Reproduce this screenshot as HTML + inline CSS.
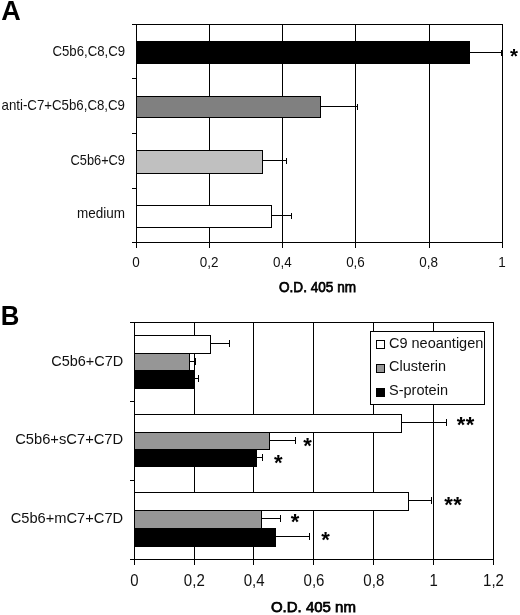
<!DOCTYPE html><html><head><meta charset="utf-8"><title>Figure</title><style>html,body{margin:0;padding:0;background:#fff}svg{display:block}text{font-family:"Liberation Sans",Arial,sans-serif;fill:#111}.la{font-size:14.5px}.lb{font-size:15.5px}.ti{font-size:15.3px;font-weight:normal;fill:#000;stroke:#000;stroke-width:0.75px}.b{font-weight:bold;fill:#000}</style></head><body>
<svg width="520" height="615" viewBox="0 0 520 615">
<rect width="520" height="615" fill="#fff"/>
<text x="1.2" y="19.7" class="b" text-anchor="start" style="font-size:27px">A</text>
<line x1="209.5" y1="24.5" x2="209.5" y2="242.5" stroke="#000" stroke-width="1" shape-rendering="crispEdges"/>
<line x1="282.5" y1="24.5" x2="282.5" y2="242.5" stroke="#000" stroke-width="1" shape-rendering="crispEdges"/>
<line x1="355.5" y1="24.5" x2="355.5" y2="242.5" stroke="#000" stroke-width="1" shape-rendering="crispEdges"/>
<line x1="429.5" y1="24.5" x2="429.5" y2="242.5" stroke="#000" stroke-width="1" shape-rendering="crispEdges"/>
<line x1="131.5" y1="24.5" x2="503.0" y2="24.5" stroke="#000" stroke-width="1" shape-rendering="crispEdges"/>
<line x1="502.5" y1="24.5" x2="502.5" y2="242.5" stroke="#000" stroke-width="1" shape-rendering="crispEdges"/>
<line x1="131.5" y1="242.5" x2="503.0" y2="242.5" stroke="#000" stroke-width="1" shape-rendering="crispEdges"/>
<line x1="136.5" y1="24.5" x2="136.5" y2="247.5" stroke="#000" stroke-width="1" shape-rendering="crispEdges"/>
<line x1="131.5" y1="78.5" x2="136.5" y2="78.5" stroke="#000" stroke-width="1" shape-rendering="crispEdges"/>
<line x1="131.5" y1="133.5" x2="136.5" y2="133.5" stroke="#000" stroke-width="1" shape-rendering="crispEdges"/>
<line x1="131.5" y1="188.5" x2="136.5" y2="188.5" stroke="#000" stroke-width="1" shape-rendering="crispEdges"/>
<line x1="209.5" y1="242.5" x2="209.5" y2="247.5" stroke="#000" stroke-width="1" shape-rendering="crispEdges"/>
<line x1="282.5" y1="242.5" x2="282.5" y2="247.5" stroke="#000" stroke-width="1" shape-rendering="crispEdges"/>
<line x1="355.5" y1="242.5" x2="355.5" y2="247.5" stroke="#000" stroke-width="1" shape-rendering="crispEdges"/>
<line x1="429.5" y1="242.5" x2="429.5" y2="247.5" stroke="#000" stroke-width="1" shape-rendering="crispEdges"/>
<line x1="502.5" y1="242.5" x2="502.5" y2="247.5" stroke="#000" stroke-width="1" shape-rendering="crispEdges"/>
<rect x="136.5" y="41.5" width="333.0" height="22" fill="#000" stroke="#000" stroke-width="1" shape-rendering="crispEdges"/>
<line x1="469.5" y1="52.5" x2="501.5" y2="52.5" stroke="#000" stroke-width="1" shape-rendering="crispEdges"/>
<line x1="501.5" y1="49.5" x2="501.5" y2="55.5" stroke="#000" stroke-width="1" shape-rendering="crispEdges"/>
<text x="125" y="56.2" class="la" text-anchor="end" textLength="72.5" lengthAdjust="spacingAndGlyphs">C5b6,C8,C9</text>
<rect x="136.5" y="96.5" width="184.0" height="21" fill="#808080" stroke="#000" stroke-width="1" shape-rendering="crispEdges"/>
<line x1="320.5" y1="106.5" x2="357.5" y2="106.5" stroke="#000" stroke-width="1" shape-rendering="crispEdges"/>
<line x1="357.5" y1="103.5" x2="357.5" y2="109.5" stroke="#000" stroke-width="1" shape-rendering="crispEdges"/>
<text x="125" y="110.2" class="la" text-anchor="end" textLength="123.5" lengthAdjust="spacingAndGlyphs">anti-C7+C5b6,C8,C9</text>
<rect x="136.5" y="150.5" width="126.0" height="23" fill="#c0c0c0" stroke="#000" stroke-width="1" shape-rendering="crispEdges"/>
<line x1="262.5" y1="160.5" x2="286.5" y2="160.5" stroke="#000" stroke-width="1" shape-rendering="crispEdges"/>
<line x1="286.5" y1="157.5" x2="286.5" y2="163.5" stroke="#000" stroke-width="1" shape-rendering="crispEdges"/>
<text x="125" y="164.8" class="la" text-anchor="end" textLength="54.5" lengthAdjust="spacingAndGlyphs">C5b6+C9</text>
<rect x="136.5" y="205.5" width="135.0" height="22" fill="#fff" stroke="#000" stroke-width="1" shape-rendering="crispEdges"/>
<line x1="271.5" y1="215.5" x2="291.5" y2="215.5" stroke="#000" stroke-width="1" shape-rendering="crispEdges"/>
<line x1="291.5" y1="212.5" x2="291.5" y2="218.5" stroke="#000" stroke-width="1" shape-rendering="crispEdges"/>
<text x="125" y="218.3" class="la" text-anchor="end" textLength="48" lengthAdjust="spacingAndGlyphs">medium</text>
<text x="135.9" y="267.3" class="la" text-anchor="middle" style="font-size:15.5px" textLength="7.5" lengthAdjust="spacingAndGlyphs">0</text>
<text x="209.1" y="267.3" class="la" text-anchor="middle" style="font-size:15.5px" textLength="18.7" lengthAdjust="spacingAndGlyphs">0,2</text>
<text x="282.3" y="267.3" class="la" text-anchor="middle" style="font-size:15.5px" textLength="18.7" lengthAdjust="spacingAndGlyphs">0,4</text>
<text x="355.5" y="267.3" class="la" text-anchor="middle" style="font-size:15.5px" textLength="18.7" lengthAdjust="spacingAndGlyphs">0,6</text>
<text x="428.7" y="267.3" class="la" text-anchor="middle" style="font-size:15.5px" textLength="18.7" lengthAdjust="spacingAndGlyphs">0,8</text>
<text x="501.9" y="267.3" class="la" text-anchor="middle" style="font-size:15.5px" textLength="7.5" lengthAdjust="spacingAndGlyphs">1</text>
<text x="317.5" y="292.2" class="ti" text-anchor="middle" textLength="77" lengthAdjust="spacingAndGlyphs">O.D. 405 nm</text>
<text x="514" y="62.5" class="b" text-anchor="middle" style="font-size:20.5px">*</text>
<text x="0.7" y="325.4" class="b" text-anchor="start" style="font-size:27px" textLength="18.6" lengthAdjust="spacingAndGlyphs">B</text>
<line x1="194.5" y1="322.5" x2="194.5" y2="559.5" stroke="#000" stroke-width="1" shape-rendering="crispEdges"/>
<line x1="253.5" y1="322.5" x2="253.5" y2="559.5" stroke="#000" stroke-width="1" shape-rendering="crispEdges"/>
<line x1="313.5" y1="322.5" x2="313.5" y2="559.5" stroke="#000" stroke-width="1" shape-rendering="crispEdges"/>
<line x1="373.5" y1="322.5" x2="373.5" y2="559.5" stroke="#000" stroke-width="1" shape-rendering="crispEdges"/>
<line x1="433.5" y1="322.5" x2="433.5" y2="559.5" stroke="#000" stroke-width="1" shape-rendering="crispEdges"/>
<line x1="129.5" y1="322.5" x2="494.0" y2="322.5" stroke="#000" stroke-width="1" shape-rendering="crispEdges"/>
<line x1="493.5" y1="322.5" x2="493.5" y2="559.5" stroke="#000" stroke-width="1" shape-rendering="crispEdges"/>
<line x1="129.5" y1="559.5" x2="494.0" y2="559.5" stroke="#000" stroke-width="1" shape-rendering="crispEdges"/>
<line x1="134.5" y1="322.5" x2="134.5" y2="564.5" stroke="#000" stroke-width="1" shape-rendering="crispEdges"/>
<line x1="129.5" y1="401.5" x2="134.5" y2="401.5" stroke="#000" stroke-width="1" shape-rendering="crispEdges"/>
<line x1="129.5" y1="480.5" x2="134.5" y2="480.5" stroke="#000" stroke-width="1" shape-rendering="crispEdges"/>
<line x1="194.5" y1="559.5" x2="194.5" y2="564.5" stroke="#000" stroke-width="1" shape-rendering="crispEdges"/>
<line x1="253.5" y1="559.5" x2="253.5" y2="564.5" stroke="#000" stroke-width="1" shape-rendering="crispEdges"/>
<line x1="313.5" y1="559.5" x2="313.5" y2="564.5" stroke="#000" stroke-width="1" shape-rendering="crispEdges"/>
<line x1="373.5" y1="559.5" x2="373.5" y2="564.5" stroke="#000" stroke-width="1" shape-rendering="crispEdges"/>
<line x1="433.5" y1="559.5" x2="433.5" y2="564.5" stroke="#000" stroke-width="1" shape-rendering="crispEdges"/>
<line x1="493.5" y1="559.5" x2="493.5" y2="564.5" stroke="#000" stroke-width="1" shape-rendering="crispEdges"/>
<rect x="134.5" y="335.5" width="76.0" height="18" fill="#fff" stroke="#000" stroke-width="1" shape-rendering="crispEdges"/>
<line x1="210.5" y1="343.5" x2="229.5" y2="343.5" stroke="#000" stroke-width="1" shape-rendering="crispEdges"/>
<line x1="229.5" y1="340.0" x2="229.5" y2="347.0" stroke="#000" stroke-width="1" shape-rendering="crispEdges"/>
<rect x="134.5" y="353.5" width="55.0" height="17" fill="#969696" stroke="#000" stroke-width="1" shape-rendering="crispEdges"/>
<line x1="189.5" y1="361.5" x2="195.5" y2="361.5" stroke="#000" stroke-width="1" shape-rendering="crispEdges"/>
<line x1="195.5" y1="358.0" x2="195.5" y2="365.0" stroke="#000" stroke-width="1" shape-rendering="crispEdges"/>
<rect x="134.5" y="370.5" width="60.0" height="18" fill="#000" stroke="#000" stroke-width="1" shape-rendering="crispEdges"/>
<line x1="194.5" y1="378.5" x2="198.5" y2="378.5" stroke="#000" stroke-width="1" shape-rendering="crispEdges"/>
<line x1="198.5" y1="375.0" x2="198.5" y2="382.0" stroke="#000" stroke-width="1" shape-rendering="crispEdges"/>
<text x="123.2" y="365.7" class="lb" text-anchor="end" textLength="72" lengthAdjust="spacingAndGlyphs">C5b6+C7D</text>
<rect x="134.5" y="414.5" width="267.0" height="18" fill="#fff" stroke="#000" stroke-width="1" shape-rendering="crispEdges"/>
<line x1="401.5" y1="422.5" x2="446.5" y2="422.5" stroke="#000" stroke-width="1" shape-rendering="crispEdges"/>
<line x1="446.5" y1="419.0" x2="446.5" y2="426.0" stroke="#000" stroke-width="1" shape-rendering="crispEdges"/>
<text x="456.8" y="432.3" class="b" text-anchor="start" style="font-size:22px;letter-spacing:0.4px">**</text>
<rect x="134.5" y="432.5" width="135.0" height="17" fill="#969696" stroke="#000" stroke-width="1" shape-rendering="crispEdges"/>
<line x1="269.5" y1="440.5" x2="295.5" y2="440.5" stroke="#000" stroke-width="1" shape-rendering="crispEdges"/>
<line x1="295.5" y1="437.0" x2="295.5" y2="444.0" stroke="#000" stroke-width="1" shape-rendering="crispEdges"/>
<text x="303.3" y="453.3" class="b" text-anchor="start" style="font-size:22px;letter-spacing:0.4px">*</text>
<rect x="134.5" y="449.5" width="122.0" height="17" fill="#000" stroke="#000" stroke-width="1" shape-rendering="crispEdges"/>
<line x1="256.5" y1="457.5" x2="262.5" y2="457.5" stroke="#000" stroke-width="1" shape-rendering="crispEdges"/>
<line x1="262.5" y1="454.0" x2="262.5" y2="461.0" stroke="#000" stroke-width="1" shape-rendering="crispEdges"/>
<text x="274.1" y="470.0" class="b" text-anchor="start" style="font-size:22px;letter-spacing:0.4px">*</text>
<text x="123.2" y="444.2" class="lb" text-anchor="end" textLength="108" lengthAdjust="spacingAndGlyphs">C5b6+sC7+C7D</text>
<rect x="134.5" y="492.5" width="274.0" height="18" fill="#fff" stroke="#000" stroke-width="1" shape-rendering="crispEdges"/>
<line x1="408.5" y1="500.5" x2="431.5" y2="500.5" stroke="#000" stroke-width="1" shape-rendering="crispEdges"/>
<line x1="431.5" y1="497.0" x2="431.5" y2="504.0" stroke="#000" stroke-width="1" shape-rendering="crispEdges"/>
<text x="444.2" y="511.6" class="b" text-anchor="start" style="font-size:22px;letter-spacing:0.4px">**</text>
<rect x="134.5" y="510.5" width="127.0" height="18" fill="#969696" stroke="#000" stroke-width="1" shape-rendering="crispEdges"/>
<line x1="261.5" y1="518.5" x2="280.5" y2="518.5" stroke="#000" stroke-width="1" shape-rendering="crispEdges"/>
<line x1="280.5" y1="515.0" x2="280.5" y2="522.0" stroke="#000" stroke-width="1" shape-rendering="crispEdges"/>
<text x="290.7" y="529.2" class="b" text-anchor="start" style="font-size:22px;letter-spacing:0.4px">*</text>
<rect x="134.5" y="528.5" width="141.0" height="18" fill="#000" stroke="#000" stroke-width="1" shape-rendering="crispEdges"/>
<line x1="275.5" y1="536.5" x2="309.5" y2="536.5" stroke="#000" stroke-width="1" shape-rendering="crispEdges"/>
<line x1="309.5" y1="533.0" x2="309.5" y2="540.0" stroke="#000" stroke-width="1" shape-rendering="crispEdges"/>
<text x="321.2" y="546.5" class="b" text-anchor="start" style="font-size:22px;letter-spacing:0.4px">*</text>
<text x="123.2" y="523.2" class="lb" text-anchor="end" textLength="112.5" lengthAdjust="spacingAndGlyphs">C5b6+mC7+C7D</text>
<text x="134.5" y="586.4" class="lb" text-anchor="middle" style="font-size:16.5px" textLength="8.3" lengthAdjust="spacingAndGlyphs">0</text>
<text x="194.3" y="586.4" class="lb" text-anchor="middle" style="font-size:16.5px" textLength="20.9" lengthAdjust="spacingAndGlyphs">0,2</text>
<text x="254.2" y="586.4" class="lb" text-anchor="middle" style="font-size:16.5px" textLength="20.9" lengthAdjust="spacingAndGlyphs">0,4</text>
<text x="314.0" y="586.4" class="lb" text-anchor="middle" style="font-size:16.5px" textLength="20.9" lengthAdjust="spacingAndGlyphs">0,6</text>
<text x="373.8" y="586.4" class="lb" text-anchor="middle" style="font-size:16.5px" textLength="20.9" lengthAdjust="spacingAndGlyphs">0,8</text>
<text x="433.7" y="586.4" class="lb" text-anchor="middle" style="font-size:16.5px" textLength="8.3" lengthAdjust="spacingAndGlyphs">1</text>
<text x="493.5" y="586.4" class="lb" text-anchor="middle" style="font-size:16.5px" textLength="20.9" lengthAdjust="spacingAndGlyphs">1,2</text>
<text x="313.4" y="612.3" class="ti" text-anchor="middle" textLength="85" lengthAdjust="spacingAndGlyphs">O.D. 405 nm</text>
<rect x="370.5" y="331.5" width="114" height="73" fill="#fff" stroke="#000" stroke-width="1" shape-rendering="crispEdges"/>
<rect x="376.5" y="340.5" width="8" height="8" fill="#fff" stroke="#000" stroke-width="1" shape-rendering="crispEdges"/>
<text x="389" y="347.7" class="lb" text-anchor="start" textLength="94.3" lengthAdjust="spacingAndGlyphs">C9 neoantigen</text>
<rect x="376.5" y="364.5" width="8" height="8" fill="#969696" stroke="#000" stroke-width="1" shape-rendering="crispEdges"/>
<text x="389" y="371" class="lb" text-anchor="start" textLength="57" lengthAdjust="spacingAndGlyphs">Clusterin</text>
<rect x="376.5" y="388.5" width="8" height="8" fill="#000" stroke="#000" stroke-width="1" shape-rendering="crispEdges"/>
<text x="389" y="395" class="lb" text-anchor="start" textLength="59" lengthAdjust="spacingAndGlyphs">S-protein</text>
</svg></body></html>
